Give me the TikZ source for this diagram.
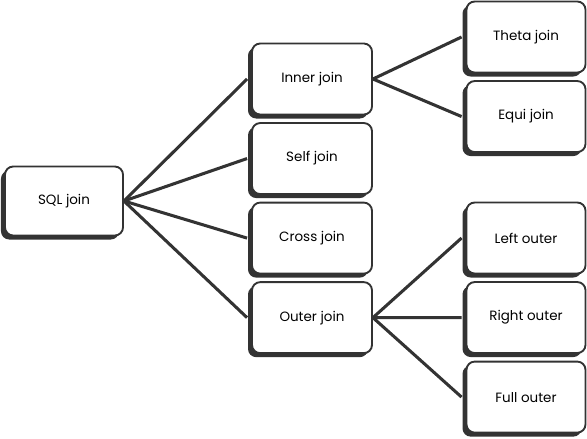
\documentclass[tikz,border=0pt]{standalone}
\usepackage{fontspec}
\setmainfont{Poppins}
\usetikzlibrary{positioning,shadows}
\definecolor{ink}{HTML}{333333}
\tikzset{
  joinbox/.style={draw=ink, line width=1.6pt, rounded corners=7pt, fill=white,
    minimum width=3.6cm, minimum height=2.13cm, align=center,
    font=\fontsize{11.5}{13}\selectfont,
    drop shadow={shadow xshift=-0.12cm, shadow yshift=-0.12cm, fill=ink, opacity=1}},
  leafbox/.style={joinbox, minimum width=3.57cm},
  link/.style={draw=ink, line width=2.6pt}
}
\begin{document}
\begin{tikzpicture}[x=0.03cm, y=-0.03cm, node distance=0.2cm]
  \useasboundingbox (0,0) rectangle (587,438);
  % root
  \node[joinbox, minimum width=3.54cm, minimum height=2.07cm] (sql) at (64,201) {SQL join};
  % middle column
  \node[joinbox] (inner) at (312,79) {Inner join};
  \node[joinbox, below=of inner] (self) {Self join};
  \node[joinbox, below=of self] (cross) {Cross join};
  \node[joinbox, below=of cross] (outer) {Outer join};
  % right column
  \node[leafbox] (theta) at (526,37) {Theta join};
  \node[leafbox, below=of theta] (equi) {Equi join};
  \node[leafbox] (left) at (526,238) {Left outer};
  \node[leafbox, below=of left] (right) {Right outer};
  \node[leafbox, below=of right] (full) {Full outer};
  % links
  \foreach \t in {inner,self,cross,outer}
    \draw[link] (sql.east) -- ([xshift=-0.12cm]\t.west);
  \foreach \t in {theta,equi}
    \draw[link] (inner.east) -- ([xshift=-0.12cm]\t.west);
  \foreach \t in {left,right,full}
    \draw[link] (outer.east) -- ([xshift=-0.12cm]\t.west);
\end{tikzpicture}
\end{document}
